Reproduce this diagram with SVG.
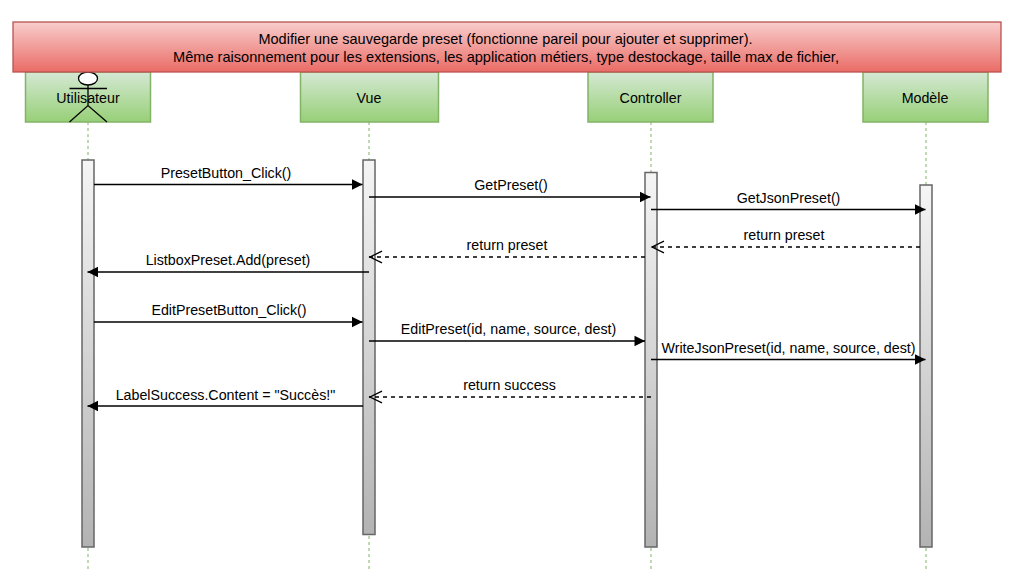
<svg xmlns="http://www.w3.org/2000/svg" width="1015" height="585" viewBox="0 0 1015 585">
<style>
text{font-family:"Liberation Sans",Arial,sans-serif;font-size:14.25px;fill:#000;text-anchor:middle}
.banner{font-size:14.5px}
.banner2{font-size:14.6px}
.life{stroke:#82b366;stroke-dasharray:3 3;fill:none}
.head{fill:url(#green);stroke:#82b366;stroke-width:1.5}
.act{fill:url(#grey);stroke:#666;stroke-width:1.5}
.sync{stroke:#000;stroke-width:1.3;fill:none;marker-end:url(#solid)}
.ret{stroke:#000;stroke-width:1.3;fill:none;stroke-dasharray:4 4;marker-end:url(#open)}
.actor{fill:none;stroke:#000;stroke-width:1.3}
</style>
<defs>
<linearGradient id="green" x1="0" y1="0" x2="0" y2="1"><stop offset="0" stop-color="#d5e8d4"/><stop offset="1" stop-color="#97d077"/></linearGradient>
<linearGradient id="red" x1="0" y1="0" x2="0" y2="1"><stop offset="0" stop-color="#f8cecc"/><stop offset="1" stop-color="#ea6b66"/></linearGradient>
<linearGradient id="grey" x1="0" y1="0" x2="0" y2="1"><stop offset="0" stop-color="#f5f5f5"/><stop offset="1" stop-color="#b3b3b3"/></linearGradient>
<marker id="solid" markerUnits="userSpaceOnUse" markerWidth="12" markerHeight="12" refX="11" refY="6" orient="auto"><path d="M0.500 0.800L11 6L0.500 11.200Z" fill="#000"/></marker>
<marker id="open" markerUnits="userSpaceOnUse" markerWidth="15" markerHeight="14" refX="13.500" refY="7" orient="auto"><path d="M0.500 1.200L12.500 7L0.500 12.800" fill="none" stroke="#000" stroke-width="1.300"/></marker>
</defs>
<g id="lifelines">
<path class="life" d="M88 122V569"/>
<path class="life" d="M369 122V569"/>
<path class="life" d="M651 122V569"/>
<path class="life" d="M926 122V569"/>
</g>
<g id="node-utilisateur">
<rect class="head" x="25.500" y="72" width="125" height="50"/>
<ellipse cx="88" cy="78.500" rx="9.500" ry="6.500" fill="#fff" stroke="#000" stroke-width="1.300"/>
<path class="actor" d="M88 85V105.500M69.500 88.500H107M69.500 122L88 105.500L107 122"/>
<text x="88" y="102.500">Utilisateur</text>
</g>
<g id="node-vue"><rect class="head" x="300.500" y="72" width="138" height="50"/><text x="369" y="102.500">Vue</text></g>
<g id="node-controller"><rect class="head" x="588" y="72" width="125" height="50"/><text x="650.500" y="102.500">Controller</text></g>
<g id="node-modele"><rect class="head" x="863" y="72" width="125" height="50"/><text x="925" y="102.500">Modèle</text></g>
<g id="node-banner">
<rect x="13" y="22" width="988" height="50" fill="url(#red)" stroke="#b85450" stroke-width="1.300"/>
<text class="banner" x="505.500" y="44">Modifier une sauvegarde preset (fonctionne pareil pour ajouter et supprimer).</text>
<text class="banner2" x="506" y="62">Même raisonnement pour les extensions, les application métiers, type destockage, taille max de fichier,</text>
</g>
<g id="activations">
<rect id="act-utilisateur" class="act" x="82" y="160" width="12" height="387"/>
<rect id="act-vue" class="act" x="363" y="160" width="12" height="374.500"/>
<rect id="act-controller" class="act" x="645" y="172.500" width="12" height="374.500"/>
<rect id="act-modele" class="act" x="920" y="185" width="12" height="362"/>
</g>
<g id="connectors">
<path class="sync" d="M94 184.500H362.500"/>
<path class="sync" d="M369 197H650.500"/>
<path class="sync" d="M651 209.500H925.500"/>
<path class="ret" d="M920 247H651"/>
<path class="ret" d="M645 257H369"/>
<path class="sync" d="M369 272H87.500"/>
<path class="sync" d="M94 322H362.500"/>
<path class="sync" d="M369 341H645"/>
<path class="sync" d="M651 359.500H925.500"/>
<path class="ret" d="M651 397H369"/>
<path class="sync" d="M363 406H87.500"/>
</g>
<g id="labels">
<text x="226" y="178">PresetButton_Click()</text>
<text x="511" y="190">GetPreset()</text>
<text x="788.500" y="203">GetJsonPreset()</text>
<text x="784" y="240">return preset</text>
<text x="507" y="250">return preset</text>
<text x="228" y="265">ListboxPreset.Add(preset)</text>
<text x="229" y="315">EditPresetButton_Click()</text>
<text x="508.500" y="334">EditPreset(id, name, source, dest)</text>
<text x="788.500" y="353">WriteJsonPreset(id, name, source, dest)</text>
<text x="509.500" y="390">return success</text>
<text x="225.500" y="400">LabelSuccess.Content = "Succès!"</text>
</g>
</svg>
